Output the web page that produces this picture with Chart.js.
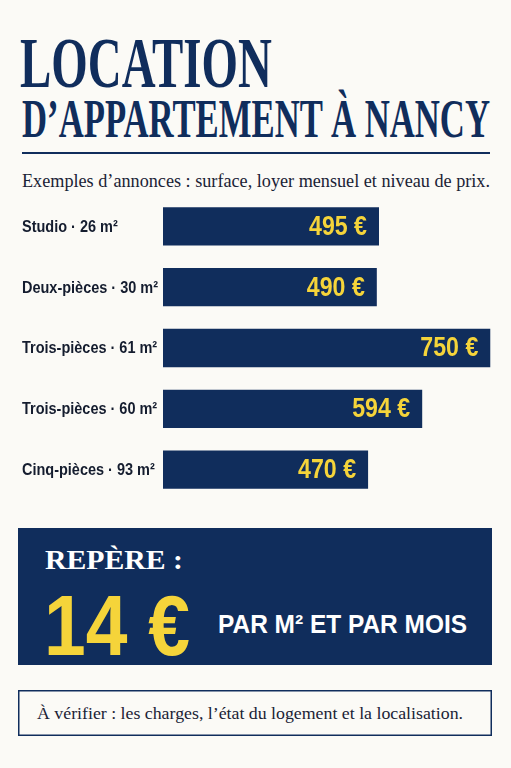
<!DOCTYPE html>
<html><head><meta charset="utf-8">
<script src="https://cdn.jsdelivr.net/npm/chart.js@4"></script>
<style>
html,body{margin:0;padding:0;background:#fbfaf6;}
#wrap{position:relative;width:511px;height:768px;overflow:hidden;}
svg{position:absolute;left:0;top:0;}
#cv{position:absolute;left:0;top:196px;}
</style></head><body>
<div id="wrap">
<svg width="511" height="768">
  <g fill="#102d5c" font-family="Liberation Serif, DejaVu Serif, serif" font-weight="bold">
    <text x="20" y="87" font-size="72" textLength="252" lengthAdjust="spacingAndGlyphs">LOCATION</text>
    <text x="22" y="137" font-size="54" textLength="468" lengthAdjust="spacingAndGlyphs">D’APPARTEMENT À NANCY</text>
  </g>
  <rect x="22" y="152" width="468" height="2" fill="#102d5c"/>
  <text x="22" y="187" font-size="18" fill="#1a2235" font-family="Liberation Serif, DejaVu Serif, serif" textLength="468" lengthAdjust="spacingAndGlyphs">Exemples d’annonces : surface, loyer mensuel et niveau de prix.</text>
  <rect x="18" y="528" width="474" height="137" fill="#102d5c"/>
  <text x="45" y="569" font-size="28" fill="#ffffff" font-weight="bold" font-family="Liberation Serif, DejaVu Serif, serif" textLength="138" lengthAdjust="spacingAndGlyphs">REPÈRE :</text>
  <text x="44" y="655" font-size="86" fill="#f5d43a" font-weight="bold" font-family="Liberation Sans, DejaVu Sans, sans-serif" textLength="146" lengthAdjust="spacingAndGlyphs">14 €</text>
  <text x="218" y="633" font-size="26" fill="#ffffff" font-weight="bold" font-family="Liberation Sans, DejaVu Sans, sans-serif" textLength="249" lengthAdjust="spacingAndGlyphs">PAR M² ET PAR MOIS</text>
  <rect x="18.75" y="690.75" width="472.5" height="44.5" fill="none" stroke="#102d5c" stroke-width="1.5"/>
  <text x="37" y="719" font-size="16" fill="#1a2235" font-family="Liberation Serif, DejaVu Serif, serif" textLength="426" lengthAdjust="spacingAndGlyphs">À vérifier : les charges, l’état du logement et la localisation.</text>
</svg>
<canvas id="cv" width="511" height="304"></canvas>
</div>
<script>
const categories = ["Studio · 26 m²","Deux-pièces · 30 m²","Trois-pièces · 61 m²","Trois-pièces · 60 m²","Cinq-pièces · 93 m²"];
const loyers = [495, 490, 750, 594, 470];
const valueLabels = ["495 €","490 €","750 €","594 €","470 €"];

const sans = "'Liberation Sans','DejaVu Sans',sans-serif";
const textPlugin = {
  id:'txt',
  afterDatasetsDraw(chart){
    const ctx = chart.ctx;
    const meta = chart.getDatasetMeta(0);
    ctx.save();
    // category labels, condensed
    ctx.font = "bold 16px " + sans;
    const kl = 136 / ctx.measureText(categories[1]).width;
    ctx.fillStyle = '#141c2e';
    ctx.textAlign = 'left'; ctx.textBaseline = 'middle';
    meta.data.forEach((bar,i)=>{
      ctx.save(); ctx.translate(22, bar.y + 1); ctx.scale(kl,1);
      ctx.fillText(chart.data.labels[i], 0, 0); ctx.restore();
    });
    // value labels, condensed
    ctx.font = "bold 27px " + sans;
    const kv = 58 / ctx.measureText(valueLabels[0]).width;
    ctx.fillStyle = '#f5d43a';
    ctx.textAlign = 'right';
    meta.data.forEach((bar,i)=>{
      ctx.save(); ctx.translate(bar.x - 12, bar.y + 1); ctx.scale(kv,1);
      ctx.fillText(valueLabels[i], 0, 0); ctx.restore();
    });
    ctx.restore();
  }
};
new Chart(document.getElementById('cv'), {
  type:'bar',
  data:{labels:categories, datasets:[{data:loyers, backgroundColor:'#102d5c', borderWidth:0, barPercentage:0.63, categoryPercentage:1}]},
  options:{
    indexAxis:'y', responsive:false, animation:false,
    devicePixelRatio:1,
    layout:{padding:{left:22,right:12,top:0,bottom:0}},
    plugins:{legend:{display:false}, tooltip:{enabled:false}},
    scales:{
      x:{display:false, min:0, max:770},
      y:{
        grid:{display:false}, border:{display:false},
        afterFit(s){ s.width = 141; },
        ticks:{display:false}
      }
    }
  },
  plugins:[textPlugin]
});
</script>
</body></html>
